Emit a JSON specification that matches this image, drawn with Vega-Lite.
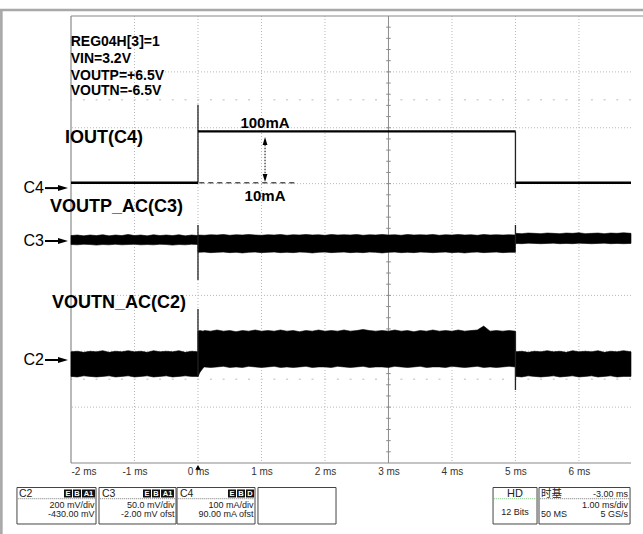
{
  "$schema": "https://vega.github.io/schema/vega-lite/v6.json",
  "width": 560,
  "height": 447,
  "autosize": "none",
  "padding": {"left": 71, "top": 16, "right": 12, "bottom": 71},
  "background": "white",
  "config": {"view": {"stroke": null}, "font": "Liberation Sans"},
  "resolve": {"axis": {"x": "independent"}},
  "datasets": {
    "gx": [{"t": -1}, {"t": 0}, {"t": 1}, {"t": 2}, {"t": 4}, {"t": 5}, {"t": 6}],
    "gy": [{"d": 1}, {"d": 2}, {"d": 3}, {"d": 5}, {"d": 6}, {"d": 7}],
    "ghost": [{"d": 6.5}, {"d": 1.5}],
    "mty": [{"d":0.2},{"d":0.4},{"d":0.6},{"d":0.8},{"d":1},{"d":1.2},{"d":1.4},{"d":1.6},{"d":1.8},{"d":2},{"d":2.2},{"d":2.4},{"d":2.6},{"d":2.8},{"d":3},{"d":3.2},{"d":3.4},{"d":3.6},{"d":3.8},{"d":4},{"d":4.2},{"d":4.4},{"d":4.6},{"d":4.8},{"d":5},{"d":5.2},{"d":5.4},{"d":5.6},{"d":5.8},{"d":6},{"d":6.2},{"d":6.4},{"d":6.6},{"d":6.8},{"d":7},{"d":7.2},{"d":7.4},{"d":7.6},{"d":7.8}],
    "mtx": [{"t":-1.8},{"t":-1.6},{"t":-1.4},{"t":-1.2},{"t":-1},{"t":-0.8},{"t":-0.6},{"t":-0.4},{"t":-0.2},{"t":0},{"t":0.2},{"t":0.4},{"t":0.6},{"t":0.8},{"t":1},{"t":1.2},{"t":1.4},{"t":1.6},{"t":1.8},{"t":2},{"t":2.2},{"t":2.4},{"t":2.6},{"t":2.8},{"t":3},{"t":3.2},{"t":3.4},{"t":3.6},{"t":3.8},{"t":4},{"t":4.2},{"t":4.4},{"t":4.6},{"t":4.8},{"t":5},{"t":5.2},{"t":5.4},{"t":5.6},{"t":5.8},{"t":6},{"t":6.2},{"t":6.4},{"t":6.6},{"t":6.8}],
    "iout": [
      {"s": "a", "t": -2, "v": 5.015}, {"s": "a", "t": 0, "v": 5.015},
      {"s": "b", "t": 0, "v": 5.935}, {"s": "b", "t": 5, "v": 5.935},
      {"s": "c", "t": 5, "v": 5.015}, {"s": "c", "t": 6.82, "v": 5.015}
    ],
    "spk": [
      {"t": 0, "lo": 5.015, "hi": 6.41}, {"t": 5, "lo": 4.92, "hi": 5.935},
      {"t": 0, "lo": 3.275, "hi": 4.26}, {"t": 5, "lo": 3.9, "hi": 4.26},
      {"t": 0, "lo": 1.55, "hi": 2.756}, {"t": 5, "lo": 1.306, "hi": 2.35}
    ],
    "vp": [
      {"s":"p1","t":-2.0,"h":4.07,"l":3.91},{"s":"p1","t":-1.9,"h":4.08,"l":3.905},{"s":"p1","t":-1.8,"h":4.065,"l":3.915},{"s":"p1","t":-1.7,"h":4.08,"l":3.91},{"s":"p1","t":-1.6,"h":4.07,"l":3.9},{"s":"p1","t":-1.5,"h":4.085,"l":3.91},{"s":"p1","t":-1.4,"h":4.065,"l":3.905},{"s":"p1","t":-1.3,"h":4.08,"l":3.915},{"s":"p1","t":-1.2,"h":4.07,"l":3.905},{"s":"p1","t":-1.1,"h":4.09,"l":3.91},{"s":"p1","t":-1.0,"h":4.07,"l":3.915},{"s":"p1","t":-0.9,"h":4.08,"l":3.905},{"s":"p1","t":-0.8,"h":4.065,"l":3.91},{"s":"p1","t":-0.7,"h":4.085,"l":3.905},{"s":"p1","t":-0.6,"h":4.07,"l":3.915},{"s":"p1","t":-0.5,"h":4.08,"l":3.91},{"s":"p1","t":-0.4,"h":4.07,"l":3.9},{"s":"p1","t":-0.3,"h":4.085,"l":3.91},{"s":"p1","t":-0.2,"h":4.065,"l":3.905},{"s":"p1","t":-0.1,"h":4.08,"l":3.915},{"s":"p1","t":0.0,"h":4.07,"l":3.91},
      {"s":"p2","t":0.0,"h":4.08,"l":3.77},{"s":"p2","t":0.1,"h":4.075,"l":3.775},{"s":"p2","t":0.2,"h":4.085,"l":3.765},{"s":"p2","t":0.3,"h":4.08,"l":3.77},{"s":"p2","t":0.4,"h":4.09,"l":3.775},{"s":"p2","t":0.5,"h":4.075,"l":3.765},{"s":"p2","t":0.6,"h":4.085,"l":3.77},{"s":"p2","t":0.7,"h":4.08,"l":3.76},{"s":"p2","t":0.8,"h":4.09,"l":3.77},{"s":"p2","t":0.9,"h":4.08,"l":3.775},{"s":"p2","t":1.0,"h":4.075,"l":3.765},{"s":"p2","t":1.1,"h":4.085,"l":3.77},{"s":"p2","t":1.2,"h":4.08,"l":3.775},{"s":"p2","t":1.3,"h":4.09,"l":3.765},{"s":"p2","t":1.4,"h":4.075,"l":3.77},{"s":"p2","t":1.5,"h":4.085,"l":3.765},{"s":"p2","t":1.6,"h":4.08,"l":3.775},{"s":"p2","t":1.7,"h":4.09,"l":3.77},{"s":"p2","t":1.8,"h":4.08,"l":3.76},{"s":"p2","t":1.9,"h":4.085,"l":3.77},{"s":"p2","t":2.0,"h":4.075,"l":3.775},{"s":"p2","t":2.1,"h":4.09,"l":3.765},{"s":"p2","t":2.2,"h":4.08,"l":3.77},{"s":"p2","t":2.3,"h":4.085,"l":3.775},{"s":"p2","t":2.4,"h":4.08,"l":3.765},{"s":"p2","t":2.5,"h":4.09,"l":3.77},{"s":"p2","t":2.6,"h":4.075,"l":3.765},{"s":"p2","t":2.7,"h":4.085,"l":3.775},{"s":"p2","t":2.8,"h":4.08,"l":3.77},{"s":"p2","t":2.9,"h":4.09,"l":3.76},{"s":"p2","t":3.0,"h":4.08,"l":3.77},{"s":"p2","t":3.1,"h":4.085,"l":3.775},{"s":"p2","t":3.2,"h":4.075,"l":3.765},{"s":"p2","t":3.3,"h":4.09,"l":3.77},{"s":"p2","t":3.4,"h":4.08,"l":3.765},{"s":"p2","t":3.5,"h":4.085,"l":3.775},{"s":"p2","t":3.6,"h":4.08,"l":3.77},{"s":"p2","t":3.7,"h":4.09,"l":3.765},{"s":"p2","t":3.8,"h":4.075,"l":3.77},{"s":"p2","t":3.9,"h":4.085,"l":3.775},{"s":"p2","t":4.0,"h":4.08,"l":3.765},{"s":"p2","t":4.1,"h":4.09,"l":3.77},{"s":"p2","t":4.2,"h":4.08,"l":3.76},{"s":"p2","t":4.3,"h":4.085,"l":3.77},{"s":"p2","t":4.4,"h":4.075,"l":3.775},{"s":"p2","t":4.5,"h":4.09,"l":3.765},{"s":"p2","t":4.6,"h":4.08,"l":3.77},{"s":"p2","t":4.7,"h":4.085,"l":3.775},{"s":"p2","t":4.8,"h":4.08,"l":3.765},{"s":"p2","t":4.9,"h":4.085,"l":3.77},{"s":"p2","t":5.0,"h":4.08,"l":3.77},
      {"s":"p3","t":5.0,"h":4.11,"l":3.93},{"s":"p3","t":5.1,"h":4.105,"l":3.925},{"s":"p3","t":5.2,"h":4.115,"l":3.935},{"s":"p3","t":5.3,"h":4.11,"l":3.93},{"s":"p3","t":5.4,"h":4.105,"l":3.925},{"s":"p3","t":5.5,"h":4.115,"l":3.93},{"s":"p3","t":5.6,"h":4.11,"l":3.935},{"s":"p3","t":5.7,"h":4.105,"l":3.925},{"s":"p3","t":5.8,"h":4.115,"l":3.93},{"s":"p3","t":5.9,"h":4.11,"l":3.925},{"s":"p3","t":6.0,"h":4.12,"l":3.935},{"s":"p3","t":6.1,"h":4.105,"l":3.93},{"s":"p3","t":6.2,"h":4.11,"l":3.925},{"s":"p3","t":6.3,"h":4.115,"l":3.93},{"s":"p3","t":6.4,"h":4.105,"l":3.935},{"s":"p3","t":6.5,"h":4.115,"l":3.925},{"s":"p3","t":6.6,"h":4.11,"l":3.93},{"s":"p3","t":6.7,"h":4.12,"l":3.925},{"s":"p3","t":6.82,"h":4.11,"l":3.93}
    ],
    "vn": [
      {"s":"n1","t":-2.0,"h":1.99,"l":1.55},{"s":"n1","t":-1.9,"h":2.00,"l":1.54},{"s":"n1","t":-1.8,"h":1.98,"l":1.56},{"s":"n1","t":-1.7,"h":2.00,"l":1.55},{"s":"n1","t":-1.6,"h":1.99,"l":1.54},{"s":"n1","t":-1.5,"h":2.01,"l":1.55},{"s":"n1","t":-1.4,"h":1.98,"l":1.56},{"s":"n1","t":-1.3,"h":2.00,"l":1.54},{"s":"n1","t":-1.2,"h":1.99,"l":1.55},{"s":"n1","t":-1.1,"h":2.01,"l":1.56},{"s":"n1","t":-1.0,"h":1.99,"l":1.54},{"s":"n1","t":-0.9,"h":2.00,"l":1.55},{"s":"n1","t":-0.8,"h":1.98,"l":1.56},{"s":"n1","t":-0.7,"h":2.01,"l":1.54},{"s":"n1","t":-0.6,"h":1.99,"l":1.55},{"s":"n1","t":-0.5,"h":2.00,"l":1.56},{"s":"n1","t":-0.4,"h":1.99,"l":1.54},{"s":"n1","t":-0.3,"h":2.01,"l":1.55},{"s":"n1","t":-0.2,"h":1.98,"l":1.56},{"s":"n1","t":-0.1,"h":2.00,"l":1.55},{"s":"n1","t":0.0,"h":1.99,"l":1.55},
      {"s":"n2","t":0.0,"h":2.36,"l":1.55},{"s":"n2","t":0.03,"h":2.37,"l":1.62},{"s":"n2","t":0.08,"h":2.36,"l":1.70},{"s":"n2","t":0.1,"h":2.37,"l":1.72},{"s":"n2","t":0.2,"h":2.36,"l":1.71},{"s":"n2","t":0.3,"h":2.38,"l":1.72},{"s":"n2","t":0.4,"h":2.36,"l":1.73},{"s":"n2","t":0.5,"h":2.37,"l":1.71},{"s":"n2","t":0.6,"h":2.35,"l":1.72},{"s":"n2","t":0.7,"h":2.37,"l":1.71},{"s":"n2","t":0.8,"h":2.36,"l":1.73},{"s":"n2","t":0.9,"h":2.38,"l":1.72},{"s":"n2","t":1.0,"h":2.36,"l":1.71},{"s":"n2","t":1.1,"h":2.37,"l":1.72},{"s":"n2","t":1.2,"h":2.36,"l":1.73},{"s":"n2","t":1.3,"h":2.38,"l":1.71},{"s":"n2","t":1.4,"h":2.36,"l":1.72},{"s":"n2","t":1.5,"h":2.37,"l":1.71},{"s":"n2","t":1.6,"h":2.35,"l":1.72},{"s":"n2","t":1.7,"h":2.37,"l":1.73},{"s":"n2","t":1.8,"h":2.36,"l":1.71},{"s":"n2","t":1.9,"h":2.38,"l":1.72},{"s":"n2","t":2.0,"h":2.36,"l":1.72},{"s":"n2","t":2.1,"h":2.37,"l":1.71},{"s":"n2","t":2.2,"h":2.36,"l":1.73},{"s":"n2","t":2.3,"h":2.38,"l":1.72},{"s":"n2","t":2.4,"h":2.36,"l":1.71},{"s":"n2","t":2.5,"h":2.37,"l":1.72},{"s":"n2","t":2.6,"h":2.39,"l":1.73},{"s":"n2","t":2.7,"h":2.37,"l":1.71},{"s":"n2","t":2.8,"h":2.36,"l":1.72},{"s":"n2","t":2.9,"h":2.37,"l":1.72},{"s":"n2","t":3.0,"h":2.36,"l":1.71},{"s":"n2","t":3.1,"h":2.38,"l":1.73},{"s":"n2","t":3.2,"h":2.36,"l":1.72},{"s":"n2","t":3.3,"h":2.37,"l":1.71},{"s":"n2","t":3.4,"h":2.35,"l":1.72},{"s":"n2","t":3.5,"h":2.37,"l":1.73},{"s":"n2","t":3.6,"h":2.36,"l":1.71},{"s":"n2","t":3.7,"h":2.38,"l":1.72},{"s":"n2","t":3.8,"h":2.36,"l":1.72},{"s":"n2","t":3.9,"h":2.37,"l":1.71},{"s":"n2","t":4.0,"h":2.36,"l":1.73},{"s":"n2","t":4.1,"h":2.38,"l":1.72},{"s":"n2","t":4.2,"h":2.36,"l":1.71},{"s":"n2","t":4.3,"h":2.37,"l":1.72},{"s":"n2","t":4.4,"h":2.38,"l":1.73},{"s":"n2","t":4.5,"h":2.45,"l":1.71},{"s":"n2","t":4.6,"h":2.36,"l":1.72},{"s":"n2","t":4.7,"h":2.37,"l":1.71},{"s":"n2","t":4.8,"h":2.36,"l":1.72},{"s":"n2","t":4.9,"h":2.37,"l":1.73},{"s":"n2","t":5.0,"h":2.36,"l":1.72},
      {"s":"n3","t":5.0,"h":1.99,"l":1.55},{"s":"n3","t":5.1,"h":2.00,"l":1.54},{"s":"n3","t":5.2,"h":1.98,"l":1.56},{"s":"n3","t":5.3,"h":2.00,"l":1.55},{"s":"n3","t":5.4,"h":1.99,"l":1.54},{"s":"n3","t":5.5,"h":2.01,"l":1.55},{"s":"n3","t":5.6,"h":1.99,"l":1.56},{"s":"n3","t":5.7,"h":2.00,"l":1.54},{"s":"n3","t":5.8,"h":1.98,"l":1.55},{"s":"n3","t":5.9,"h":2.01,"l":1.56},{"s":"n3","t":6.0,"h":1.99,"l":1.54},{"s":"n3","t":6.1,"h":2.00,"l":1.55},{"s":"n3","t":6.2,"h":1.99,"l":1.56},{"s":"n3","t":6.3,"h":2.01,"l":1.54},{"s":"n3","t":6.4,"h":1.98,"l":1.55},{"s":"n3","t":6.5,"h":2.00,"l":1.56},{"s":"n3","t":6.6,"h":1.99,"l":1.54},{"s":"n3","t":6.7,"h":2.01,"l":1.55},{"s":"n3","t":6.82,"h":1.99,"l":1.55}
    ],
    "big": [
      {"x": -2.0945, "y": 5.817, "txt": "IOUT(C4)"},
      {"x": -2.331, "y": 4.573, "txt": "VOUTP_AC(C3)"},
      {"x": -2.299, "y": 2.855, "txt": "VOUTN_AC(C2)"}
    ],
    "note": [
      {"x": -2.005, "y": 7.54, "txt": "REG04H[3]=1"},
      {"x": -2.005, "y": 7.239, "txt": "VIN=3.2V"},
      {"x": -2.005, "y": 6.926, "txt": "VOUTP=+6.5V"},
      {"x": -2.005, "y": 6.649, "txt": "VOUTN=-6.5V"}
    ],
    "ma": [
      {"x": 1.056, "y": 6.085, "txt": "100mA"},
      {"x": 1.056, "y": 4.778, "txt": "10mA"}
    ],
    "heads": [{"t": 1.056, "v": 5.762, "k": "up"}, {"t": 1.056, "v": 5.101, "k": "down"}],
    "ch": [
      {"y": 4.92, "txt": "C4"},
      {"y": 3.973, "txt": "C3"},
      {"y": 1.843, "txt": "C2"}
    ],
    "box": [
      {"a": -2.851, "b": -1.606}, {"a": -1.559, "b": -0.346}, {"a": -0.33, "b": 0.898},
      {"a": 0.945, "b": 2.174}, {"a": 4.647, "b": 5.34}, {"a": 5.371, "b": 6.805}
    ],
    "sep": [
      {"a": -2.83, "b": -1.62}, {"a": -1.54, "b": -0.36}, {"a": -0.31, "b": 0.88}, {"a": 5.39, "b": 6.79}
    ],
    "badge": [
      {"a": -2.11, "b": -1.984, "txt": "E"}, {"a": -1.969, "b": -1.842, "txt": "B"}, {"a": -1.827, "b": -1.622, "txt": "A1"},
      {"a": -0.866, "b": -0.74, "txt": "E"}, {"a": -0.724, "b": -0.598, "txt": "B"}, {"a": -0.582, "b": -0.378, "txt": "A1"},
      {"a": 0.473, "b": 0.599, "txt": "E"}, {"a": 0.615, "b": 0.741, "txt": "B"}, {"a": 0.756, "b": 0.882, "txt": "D"}
    ],
    "hdr": [
      {"x": -2.819, "txt": "C2"}, {"x": -1.512, "txt": "C3"}, {"x": -0.283, "txt": "C4"}, {"x": 5.402, "txt": "时基"}
    ],
    "rtxt": [
      {"x": -1.63, "y": -0.752, "txt": "200 mV/div"}, {"x": -1.63, "y": -0.913, "txt": "-430.00 mV"},
      {"x": -0.37, "y": -0.752, "txt": "50.0 mV/div"}, {"x": -0.37, "y": -0.913, "txt": "-2.00 mV ofst"},
      {"x": 0.874, "y": -0.752, "txt": "100 mA/div"}, {"x": 0.874, "y": -0.913, "txt": "90.00 mA ofst"},
      {"x": 6.774, "y": -0.546, "txt": "-3.00 ms"}, {"x": 6.774, "y": -0.752, "txt": "1.00 ms/div"},
      {"x": 6.774, "y": -0.913, "txt": "5 GS/s"}
    ],
    "ltxt": [{"x": 5.402, "y": -0.913, "txt": "50 MS"}],
    "hd": [{"x": 4.993, "y": -0.555, "txt": "HD"}],
    "bits": [{"x": 4.993, "y": -0.88, "txt": "12 Bits"}]
  },
  "layer": [
    {
      "data": {"name": "gx"},
      "mark": {"type": "rule", "color": "#b8b8b8", "strokeDash": [1, 2], "strokeWidth": 1},
      "encoding": {
        "x": {"field": "t", "type": "quantitative", "scale": {"domain": [-2, 6.82], "nice": false, "zero": false},
          "axis": {"orient": "bottom", "values": [-2, -1, 0, 1, 2, 3, 4, 5, 6], "labelExpr": "datum.value + ' ms'", "domain": false, "ticks": false, "grid": false, "title": null, "labelFontSize": 10, "labelColor": "#333", "labelFont": "Liberation Sans", "labelPadding": 3, "labelFlush": true}}
      }
    },
    {
      "data": {"name": "gy"},
      "mark": {"type": "rule", "color": "#b8b8b8", "strokeDash": [1, 2], "strokeWidth": 1},
      "encoding": {"y": {"field": "d", "type": "quantitative", "scale": {"domain": [0, 8], "nice": false, "zero": false}, "axis": null}}
    },
    {
      "data": {"name": "ghost"},
      "mark": {"type": "rule", "color": "#d2d2d2", "strokeDash": [2, 10.7], "strokeWidth": 1.5},
      "encoding": {"y": {"field": "d", "type": "quantitative", "axis": null}}
    },
    {
      "data": {"values": [{}]},
      "mark": {"type": "rule", "color": "#8c8c8c", "strokeWidth": 1},
      "encoding": {"x": {"datum": 3, "type": "quantitative", "axis": null}}
    },
    {
      "data": {"values": [{}]},
      "mark": {"type": "rule", "color": "#8c8c8c", "strokeWidth": 1},
      "encoding": {"y": {"datum": 4, "type": "quantitative", "axis": null}}
    },
    {
      "data": {"name": "mty"},
      "mark": {"type": "rule", "color": "#8c8c8c", "strokeWidth": 1},
      "encoding": {
        "y": {"field": "d", "type": "quantitative", "axis": null},
        "x": {"datum": 2.964, "type": "quantitative", "axis": null},
        "x2": {"datum": 3.036}
      }
    },
    {
      "data": {"name": "mtx"},
      "mark": {"type": "rule", "color": "#8c8c8c", "strokeWidth": 1},
      "encoding": {
        "x": {"field": "t", "type": "quantitative", "axis": null},
        "y": {"datum": 3.959, "type": "quantitative", "axis": null},
        "y2": {"datum": 4.041}
      }
    },
    {
      "data": {"values": [{}]},
      "mark": {"type": "rule", "color": "#8a8a8a", "strokeWidth": 1.2},
      "encoding": {"x": {"datum": -2, "type": "quantitative", "axis": null}}
    },
    {
      "data": {"values": [{}]},
      "mark": {"type": "rule", "color": "#8a8a8a", "strokeWidth": 1.2},
      "encoding": {"y": {"datum": 0, "type": "quantitative", "axis": null}}
    },
    {
      "data": {"values": [{}]},
      "mark": {"type": "rule", "color": "#8a8a8a", "strokeWidth": 1.2},
      "encoding": {
        "y": {"datum": 8, "type": "quantitative", "axis": null},
        "x": {"datum": -2, "type": "quantitative", "axis": null},
        "x2": {"datum": 7.01}
      }
    },
    {
      "data": {"values": [{}]},
      "mark": {"type": "rule", "color": "#a8a8a8", "strokeWidth": 2.5},
      "encoding": {
        "y": {"datum": 8.107, "type": "quantitative", "axis": null},
        "x": {"datum": -3.12, "type": "quantitative", "axis": null},
        "x2": {"datum": 7.01}
      }
    },
    {
      "data": {"values": [{}]},
      "mark": {"type": "rule", "color": "#a8a8a8", "strokeWidth": 2.6},
      "encoding": {
        "x": {"datum": -3.097, "type": "quantitative", "axis": null},
        "y": {"datum": 8.107, "type": "quantitative", "axis": null},
        "y2": {"datum": -1.28}
      }
    },
    {
      "data": {"name": "vp"},
      "mark": {"type": "area", "color": "black", "stroke": "black", "strokeWidth": 0.6, "interpolate": "linear"},
      "encoding": {
        "x": {"field": "t", "type": "quantitative", "axis": null},
        "y": {"field": "h", "type": "quantitative", "axis": null},
        "y2": {"field": "l"},
        "detail": {"field": "s"}
      }
    },
    {
      "data": {"name": "vn"},
      "mark": {"type": "area", "color": "black", "stroke": "black", "strokeWidth": 0.6, "interpolate": "linear"},
      "encoding": {
        "x": {"field": "t", "type": "quantitative", "axis": null},
        "y": {"field": "h", "type": "quantitative", "axis": null},
        "y2": {"field": "l"},
        "detail": {"field": "s"}
      }
    },
    {
      "data": {"name": "spk"},
      "mark": {"type": "rule", "color": "#222", "strokeWidth": 1.3},
      "encoding": {
        "x": {"field": "t", "type": "quantitative", "axis": null},
        "y": {"field": "lo", "type": "quantitative", "axis": null},
        "y2": {"field": "hi"}
      }
    },
    {
      "data": {"name": "iout"},
      "mark": {"type": "line", "color": "black", "strokeWidth": 2.4},
      "encoding": {
        "x": {"field": "t", "type": "quantitative", "axis": null},
        "y": {"field": "v", "type": "quantitative", "axis": null},
        "detail": {"field": "s"}
      }
    },
    {
      "data": {"values": [{}]},
      "mark": {"type": "rule", "color": "#555", "strokeWidth": 1.5, "strokeDash": [5, 4]},
      "encoding": {
        "y": {"datum": 5.015, "type": "quantitative", "axis": null},
        "x": {"datum": 0.02, "type": "quantitative", "axis": null},
        "x2": {"datum": 1.528}
      }
    },
    {
      "data": {"values": [{}]},
      "mark": {"type": "rule", "color": "black", "strokeWidth": 1, "strokeDash": [1.5, 1.5]},
      "encoding": {
        "x": {"datum": 1.056, "type": "quantitative", "axis": null},
        "y": {"datum": 5.75, "type": "quantitative", "axis": null},
        "y2": {"datum": 5.11}
      }
    },
    {
      "data": {"name": "heads"},
      "transform": [{"filter": "datum.k == 'up'"}],
      "mark": {"type": "point", "shape": "M0,-1L0.6,1L-0.6,1Z", "size": 64, "filled": true, "color": "black", "opacity": 1},
      "encoding": {
        "x": {"field": "t", "type": "quantitative", "axis": null},
        "y": {"field": "v", "type": "quantitative", "axis": null}
      }
    },
    {
      "data": {"name": "heads"},
      "transform": [{"filter": "datum.k == 'down'"}],
      "mark": {"type": "point", "shape": "M0,1L0.6,-1L-0.6,-1Z", "size": 64, "filled": true, "color": "black", "opacity": 1},
      "encoding": {
        "x": {"field": "t", "type": "quantitative", "axis": null},
        "y": {"field": "v", "type": "quantitative", "axis": null}
      }
    },
    {
      "data": {"name": "big"},
      "mark": {"type": "text", "align": "left", "baseline": "middle", "fontSize": 18, "fontWeight": "bold", "font": "Liberation Sans", "color": "black"},
      "encoding": {
        "x": {"field": "x", "type": "quantitative", "axis": null},
        "y": {"field": "y", "type": "quantitative", "axis": null},
        "text": {"field": "txt"}
      }
    },
    {
      "data": {"name": "note"},
      "mark": {"type": "text", "align": "left", "baseline": "middle", "fontSize": 14, "fontWeight": "bold", "font": "Liberation Sans", "color": "black"},
      "encoding": {
        "x": {"field": "x", "type": "quantitative", "axis": null},
        "y": {"field": "y", "type": "quantitative", "axis": null},
        "text": {"field": "txt"}
      }
    },
    {
      "data": {"name": "ma"},
      "mark": {"type": "text", "align": "center", "baseline": "middle", "fontSize": 15, "fontWeight": "bold", "font": "Liberation Sans", "color": "black"},
      "encoding": {
        "x": {"field": "x", "type": "quantitative", "axis": null},
        "y": {"field": "y", "type": "quantitative", "axis": null},
        "text": {"field": "txt"}
      }
    },
    {
      "data": {"name": "ch"},
      "mark": {"type": "text", "align": "right", "baseline": "middle", "fontSize": 16, "font": "Liberation Sans", "color": "black"},
      "encoding": {
        "x": {"datum": -2.425, "type": "quantitative", "axis": null},
        "y": {"field": "y", "type": "quantitative", "axis": null},
        "text": {"field": "txt"}
      }
    },
    {
      "data": {"name": "ch"},
      "mark": {"type": "rule", "color": "black", "strokeWidth": 2},
      "encoding": {
        "x": {"datum": -2.41, "type": "quantitative", "axis": null},
        "x2": {"datum": -2.17},
        "y": {"field": "y", "type": "quantitative", "axis": null}
      }
    },
    {
      "data": {"name": "ch"},
      "mark": {"type": "point", "shape": "M1,0L-1,-0.6L-1,0.6Z", "size": 100, "filled": true, "color": "black", "opacity": 1},
      "encoding": {
        "x": {"datum": -2.126, "type": "quantitative", "axis": null},
        "y": {"field": "y", "type": "quantitative", "axis": null}
      }
    },
    {
      "data": {"values": [{}]},
      "mark": {"type": "point", "shape": "triangle-up", "size": 30, "filled": true, "color": "black", "opacity": 1},
      "encoding": {
        "x": {"datum": 0, "type": "quantitative", "axis": null},
        "y": {"datum": -0.08, "type": "quantitative", "axis": null}
      }
    },
    {
      "data": {"name": "box"},
      "mark": {"type": "rect", "fill": "white", "stroke": "#444", "strokeWidth": 1},
      "encoding": {
        "x": {"field": "a", "type": "quantitative", "axis": null},
        "x2": {"field": "b"},
        "y": {"datum": -0.4385, "type": "quantitative", "axis": null},
        "y2": {"datum": -1.0917}
      }
    },
    {
      "data": {"name": "sep"},
      "mark": {"type": "rule", "color": "#777", "strokeWidth": 1, "strokeDash": [1, 1]},
      "encoding": {
        "x": {"field": "a", "type": "quantitative", "axis": null},
        "x2": {"field": "b"},
        "y": {"datum": -0.639, "type": "quantitative", "axis": null}
      }
    },
    {
      "data": {"values": [{}]},
      "mark": {"type": "rule", "color": "#7cc47c", "strokeWidth": 1, "strokeDash": [1, 1]},
      "encoding": {
        "x": {"datum": 4.66, "type": "quantitative", "axis": null},
        "x2": {"datum": 5.33},
        "y": {"datum": -0.639, "type": "quantitative", "axis": null}
      }
    },
    {
      "data": {"name": "badge"},
      "mark": {"type": "rect", "fill": "#111"},
      "encoding": {
        "x": {"field": "a", "type": "quantitative", "axis": null},
        "x2": {"field": "b"},
        "y": {"datum": -0.474, "type": "quantitative", "axis": null},
        "y2": {"datum": -0.617}
      }
    },
    {
      "data": {"name": "badge"},
      "transform": [{"calculate": "(datum.a + datum.b) / 2", "as": "m"}],
      "mark": {"type": "text", "align": "center", "baseline": "middle", "fontSize": 7.5, "fontWeight": "bold", "font": "Liberation Sans", "color": "white"},
      "encoding": {
        "x": {"field": "m", "type": "quantitative", "axis": null},
        "y": {"datum": -0.546, "type": "quantitative", "axis": null},
        "text": {"field": "txt"}
      }
    },
    {
      "data": {"name": "hdr"},
      "mark": {"type": "text", "align": "left", "baseline": "middle", "fontSize": 10.5, "font": "Liberation Sans, Noto Sans CJK SC", "color": "#222"},
      "encoding": {
        "x": {"field": "x", "type": "quantitative", "axis": null},
        "y": {"datum": -0.546, "type": "quantitative", "axis": null},
        "text": {"field": "txt"}
      }
    },
    {
      "data": {"name": "rtxt"},
      "mark": {"type": "text", "align": "right", "baseline": "middle", "fontSize": 9, "font": "Liberation Sans", "color": "#222"},
      "encoding": {
        "x": {"field": "x", "type": "quantitative", "axis": null},
        "y": {"field": "y", "type": "quantitative", "axis": null},
        "text": {"field": "txt"}
      }
    },
    {
      "data": {"name": "ltxt"},
      "mark": {"type": "text", "align": "left", "baseline": "middle", "fontSize": 9, "font": "Liberation Sans", "color": "#222"},
      "encoding": {
        "x": {"field": "x", "type": "quantitative", "axis": null},
        "y": {"field": "y", "type": "quantitative", "axis": null},
        "text": {"field": "txt"}
      }
    },
    {
      "data": {"name": "hd"},
      "mark": {"type": "text", "align": "center", "baseline": "middle", "fontSize": 11, "font": "Liberation Sans", "color": "#222"},
      "encoding": {
        "x": {"field": "x", "type": "quantitative", "axis": null},
        "y": {"field": "y", "type": "quantitative", "axis": null},
        "text": {"field": "txt"}
      }
    },
    {
      "data": {"name": "bits"},
      "mark": {"type": "text", "align": "center", "baseline": "middle", "fontSize": 9, "font": "Liberation Sans", "color": "#222"},
      "encoding": {
        "x": {"field": "x", "type": "quantitative", "axis": null},
        "y": {"field": "y", "type": "quantitative", "axis": null},
        "text": {"field": "txt"}
      }
    }
  ]
}
